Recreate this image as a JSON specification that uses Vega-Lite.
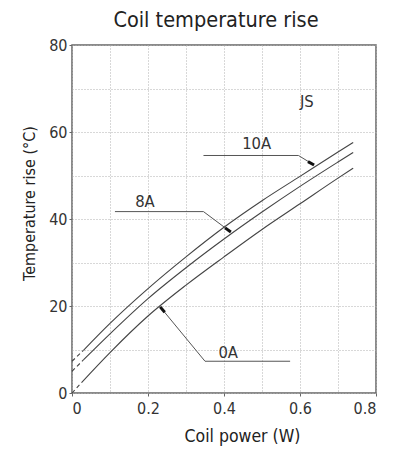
{
  "$schema": "https://vega.github.io/schema/vega-lite/v6.json",
  "autosize": "none",
  "width": 304,
  "height": 348,
  "padding": {"left": 72, "top": 45, "right": 20, "bottom": 56},
  "background": "white",
  "title": {
    "text": "Coil temperature rise",
    "anchor": "middle",
    "fontSize": 21.5,
    "font": "DejaVu Sans Condensed",
    "fontWeight": "normal",
    "color": "#222",
    "offset": 6,
    "dx": -8
  },
  "config": {
    "view": {"stroke": "#666", "strokeWidth": 1.5},
    "axis": {
      "labelFont": "DejaVu Sans Condensed",
      "titleFont": "DejaVu Sans Condensed",
      "labelColor": "#333",
      "titleColor": "#222",
      "labelFontSize": 16,
      "titleFontSize": 17.5,
      "titleFontWeight": "normal",
      "grid": true,
      "gridDash": [1, 2],
      "gridColor": "#b0b0b0",
      "gridWidth": 1,
      "domain": false,
      "tickColor": "#666",
      "tickSize": 3
    }
  },
  "datasets": {
    "curves": [
      {"series": "10A", "part": "dash", "x": 0, "y": 7.3},
      {"series": "10A", "part": "dash", "x": 0.03, "y": 9.8},
      {"series": "10A", "part": "solid", "x": 0.03, "y": 9.8},
      {"series": "10A", "part": "solid", "x": 0.1, "y": 16.0},
      {"series": "10A", "part": "solid", "x": 0.2, "y": 24.0},
      {"series": "10A", "part": "solid", "x": 0.3, "y": 31.3},
      {"series": "10A", "part": "solid", "x": 0.4, "y": 38.1},
      {"series": "10A", "part": "solid", "x": 0.5, "y": 44.2},
      {"series": "10A", "part": "solid", "x": 0.6, "y": 49.8},
      {"series": "10A", "part": "solid", "x": 0.7, "y": 55.4},
      {"series": "10A", "part": "solid", "x": 0.74, "y": 57.6},
      {"series": "8A", "part": "dash", "x": 0, "y": 5.0},
      {"series": "8A", "part": "dash", "x": 0.03, "y": 7.6},
      {"series": "8A", "part": "solid", "x": 0.03, "y": 7.6},
      {"series": "8A", "part": "solid", "x": 0.1, "y": 13.6},
      {"series": "8A", "part": "solid", "x": 0.2, "y": 21.7},
      {"series": "8A", "part": "solid", "x": 0.3, "y": 28.8},
      {"series": "8A", "part": "solid", "x": 0.4, "y": 35.4},
      {"series": "8A", "part": "solid", "x": 0.5, "y": 41.6},
      {"series": "8A", "part": "solid", "x": 0.6, "y": 47.5},
      {"series": "8A", "part": "solid", "x": 0.7, "y": 53.1},
      {"series": "8A", "part": "solid", "x": 0.74, "y": 55.3},
      {"series": "0A", "part": "dash", "x": 0, "y": 0},
      {"series": "0A", "part": "dash", "x": 0.025, "y": 2.4},
      {"series": "0A", "part": "solid", "x": 0.025, "y": 2.4},
      {"series": "0A", "part": "solid", "x": 0.1, "y": 9.3},
      {"series": "0A", "part": "solid", "x": 0.2, "y": 17.7},
      {"series": "0A", "part": "solid", "x": 0.3, "y": 24.8},
      {"series": "0A", "part": "solid", "x": 0.4, "y": 31.3},
      {"series": "0A", "part": "solid", "x": 0.5, "y": 37.6},
      {"series": "0A", "part": "solid", "x": 0.6, "y": 43.5},
      {"series": "0A", "part": "solid", "x": 0.7, "y": 49.4},
      {"series": "0A", "part": "solid", "x": 0.74, "y": 51.7}
    ],
    "leaders": [
      {"leader": "10A", "o": 1, "x": 0.346, "y": 54.6},
      {"leader": "10A", "o": 2, "x": 0.596, "y": 54.6},
      {"leader": "10A", "o": 3, "x": 0.637, "y": 52.4},
      {"leader": "8A", "o": 1, "x": 0.113, "y": 41.7},
      {"leader": "8A", "o": 2, "x": 0.346, "y": 41.7},
      {"leader": "8A", "o": 3, "x": 0.418, "y": 37.0},
      {"leader": "0A", "o": 1, "x": 0.574, "y": 7.3},
      {"leader": "0A", "o": 2, "x": 0.35, "y": 7.3},
      {"leader": "0A", "o": 3, "x": 0.232, "y": 19.8}
    ],
    "tips": [
      {"leader": "10A", "o": 1, "x": 0.621, "y": 53.2},
      {"leader": "10A", "o": 2, "x": 0.637, "y": 52.4},
      {"leader": "8A", "o": 1, "x": 0.403, "y": 37.96},
      {"leader": "8A", "o": 2, "x": 0.418, "y": 37.0},
      {"leader": "0A", "o": 1, "x": 0.244, "y": 18.56},
      {"leader": "0A", "o": 2, "x": 0.232, "y": 19.8}
    ],
    "labels": [
      {"label": "10A", "x": 0.486, "y": 57.2},
      {"label": "8A", "x": 0.192, "y": 43.8},
      {"label": "0A", "x": 0.411, "y": 9.2},
      {"label": "JS", "x": 0.618, "y": 67}
    ]
  },
  "encoding": {
    "x": {
      "field": "x",
      "type": "quantitative",
      "scale": {"domain": [0, 0.8], "nice": false},
      "axis": {
        "title": "Coil power (W)",
        "values": [0, 0.1, 0.2, 0.3, 0.4, 0.5, 0.6, 0.7, 0.8],
        "format": ".1~f",
        "labelExpr": "round(datum.value * 10) % 2 == 0 ? datum.label : ''",
        "labelPadding": 4,
        "tickOpacity": {"condition": {"test": "round(datum.value * 10) % 2 == 0", "value": 1}, "value": 0},
        "titleX": 170,
        "titleY": 48,
        "titleBaseline": "alphabetic",
        "titleAnchor": "middle"
      }
    },
    "y": {
      "field": "y",
      "type": "quantitative",
      "scale": {"domain": [0, 80], "nice": false},
      "axis": {
        "title": "Temperature rise (°C)",
        "values": [0, 10, 20, 30, 40, 50, 60, 70, 80],
        "labelExpr": "round(datum.value / 10) % 2 == 0 ? datum.label : ''",
        "labelPadding": 2,
        "titleFontSize": 16,
        "tickOpacity": {"condition": {"test": "round(datum.value / 10) % 2 == 0", "value": 1}, "value": 0},
        "titleX": -38,
        "titleY": 158,
        "titleBaseline": "alphabetic",
        "titleAnchor": "middle"
      }
    }
  },
  "layer": [
    {
      "data": {"name": "curves"},
      "transform": [{"filter": "datum.part == 'solid'"}],
      "mark": {"type": "line", "color": "#444", "strokeWidth": 1.1, "interpolate": "monotone"},
      "encoding": {"detail": {"field": "series"}}
    },
    {
      "data": {"name": "curves"},
      "transform": [{"filter": "datum.part == 'dash'"}],
      "mark": {"type": "line", "color": "#444", "strokeWidth": 1.1, "strokeDash": [4, 3]},
      "encoding": {"detail": {"field": "series"}}
    },
    {
      "data": {"name": "leaders"},
      "mark": {"type": "line", "color": "#555", "strokeWidth": 1},
      "encoding": {"detail": {"field": "leader"}, "order": {"field": "o"}}
    },
    {
      "data": {"name": "tips"},
      "mark": {"type": "line", "color": "#111", "strokeWidth": 3, "strokeCap": "butt"},
      "encoding": {"detail": {"field": "leader"}, "order": {"field": "o"}}
    },
    {
      "data": {"name": "labels"},
      "mark": {"type": "text", "font": "DejaVu Sans Condensed", "fontSize": 16.5, "color": "#333", "align": "center", "baseline": "middle"},
      "encoding": {"text": {"field": "label"}}
    }
  ]
}
